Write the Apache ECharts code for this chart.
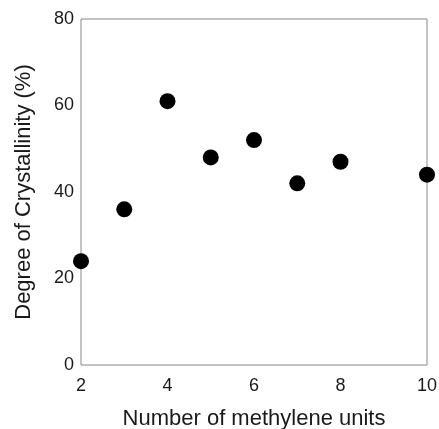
<!DOCTYPE html>
<html>
<head>
<meta charset="utf-8">
<script src="https://cdn.jsdelivr.net/npm/echarts@6/dist/echarts.min.js"></script>
<style>
  html, body { margin: 0; padding: 0; background: #fff; }
  #chart { width: 439px; height: 429px; }
</style>
</head>
<body>
<div id="chart"></div>
<script>
// methylene units vs crystallinity
const units = [2, 3, 4, 5, 6, 7, 8, 10]
const crystallinity = [24, 36, 61, 48, 52, 42, 47, 44]

const points = units.map((u, i) => [u, crystallinity[i]])
const font = 'Liberation Sans, Arial, sans-serif'

const option = {
  animation: false,
  grid: {
    left: 81,
    right: 12,
    top: 19,
    bottom: 64,
    outerBoundsMode: 'none',
    containLabel: false,
    show: true,
    borderColor: '#888',
    borderWidth: 1
  },
  xAxis: {
    type: 'value',
    min: 2,
    max: 10,
    interval: 2,
    name: 'Number of methylene units',
    nameLocation: 'middle',
    nameGap: 43,
    nameTextStyle: { fontFamily: font, fontSize: 22, color: '#1a1a1a' },
    axisLine: { show: false },
    axisTick: { show: false },
    splitLine: { show: false },
    axisLabel: { fontFamily: font, fontSize: 18, color: '#1a1a1a', margin: 12 }
  },
  yAxis: {
    type: 'value',
    min: 0,
    max: 80,
    interval: 20,
    name: 'Degree of Crystallinity (%)',
    nameLocation: 'middle',
    nameGap: 46,
    nameTextStyle: { fontFamily: font, fontSize: 22, color: '#1a1a1a' },
    axisLine: { show: false },
    axisTick: { show: false },
    splitLine: { show: false },
    axisLabel: { fontFamily: font, fontSize: 18, color: '#1a1a1a', margin: 7 }
  },
  series: [
    {
      type: 'scatter',
      data: points,
      symbol: 'circle',
      symbolSize: 16,
      clip: false,
      itemStyle: { color: '#000', opacity: 1 }
    }
  ]
}

const myChart = echarts.init(document.getElementById('chart'))
myChart.setOption(option)
</script>
</body>
</html>
